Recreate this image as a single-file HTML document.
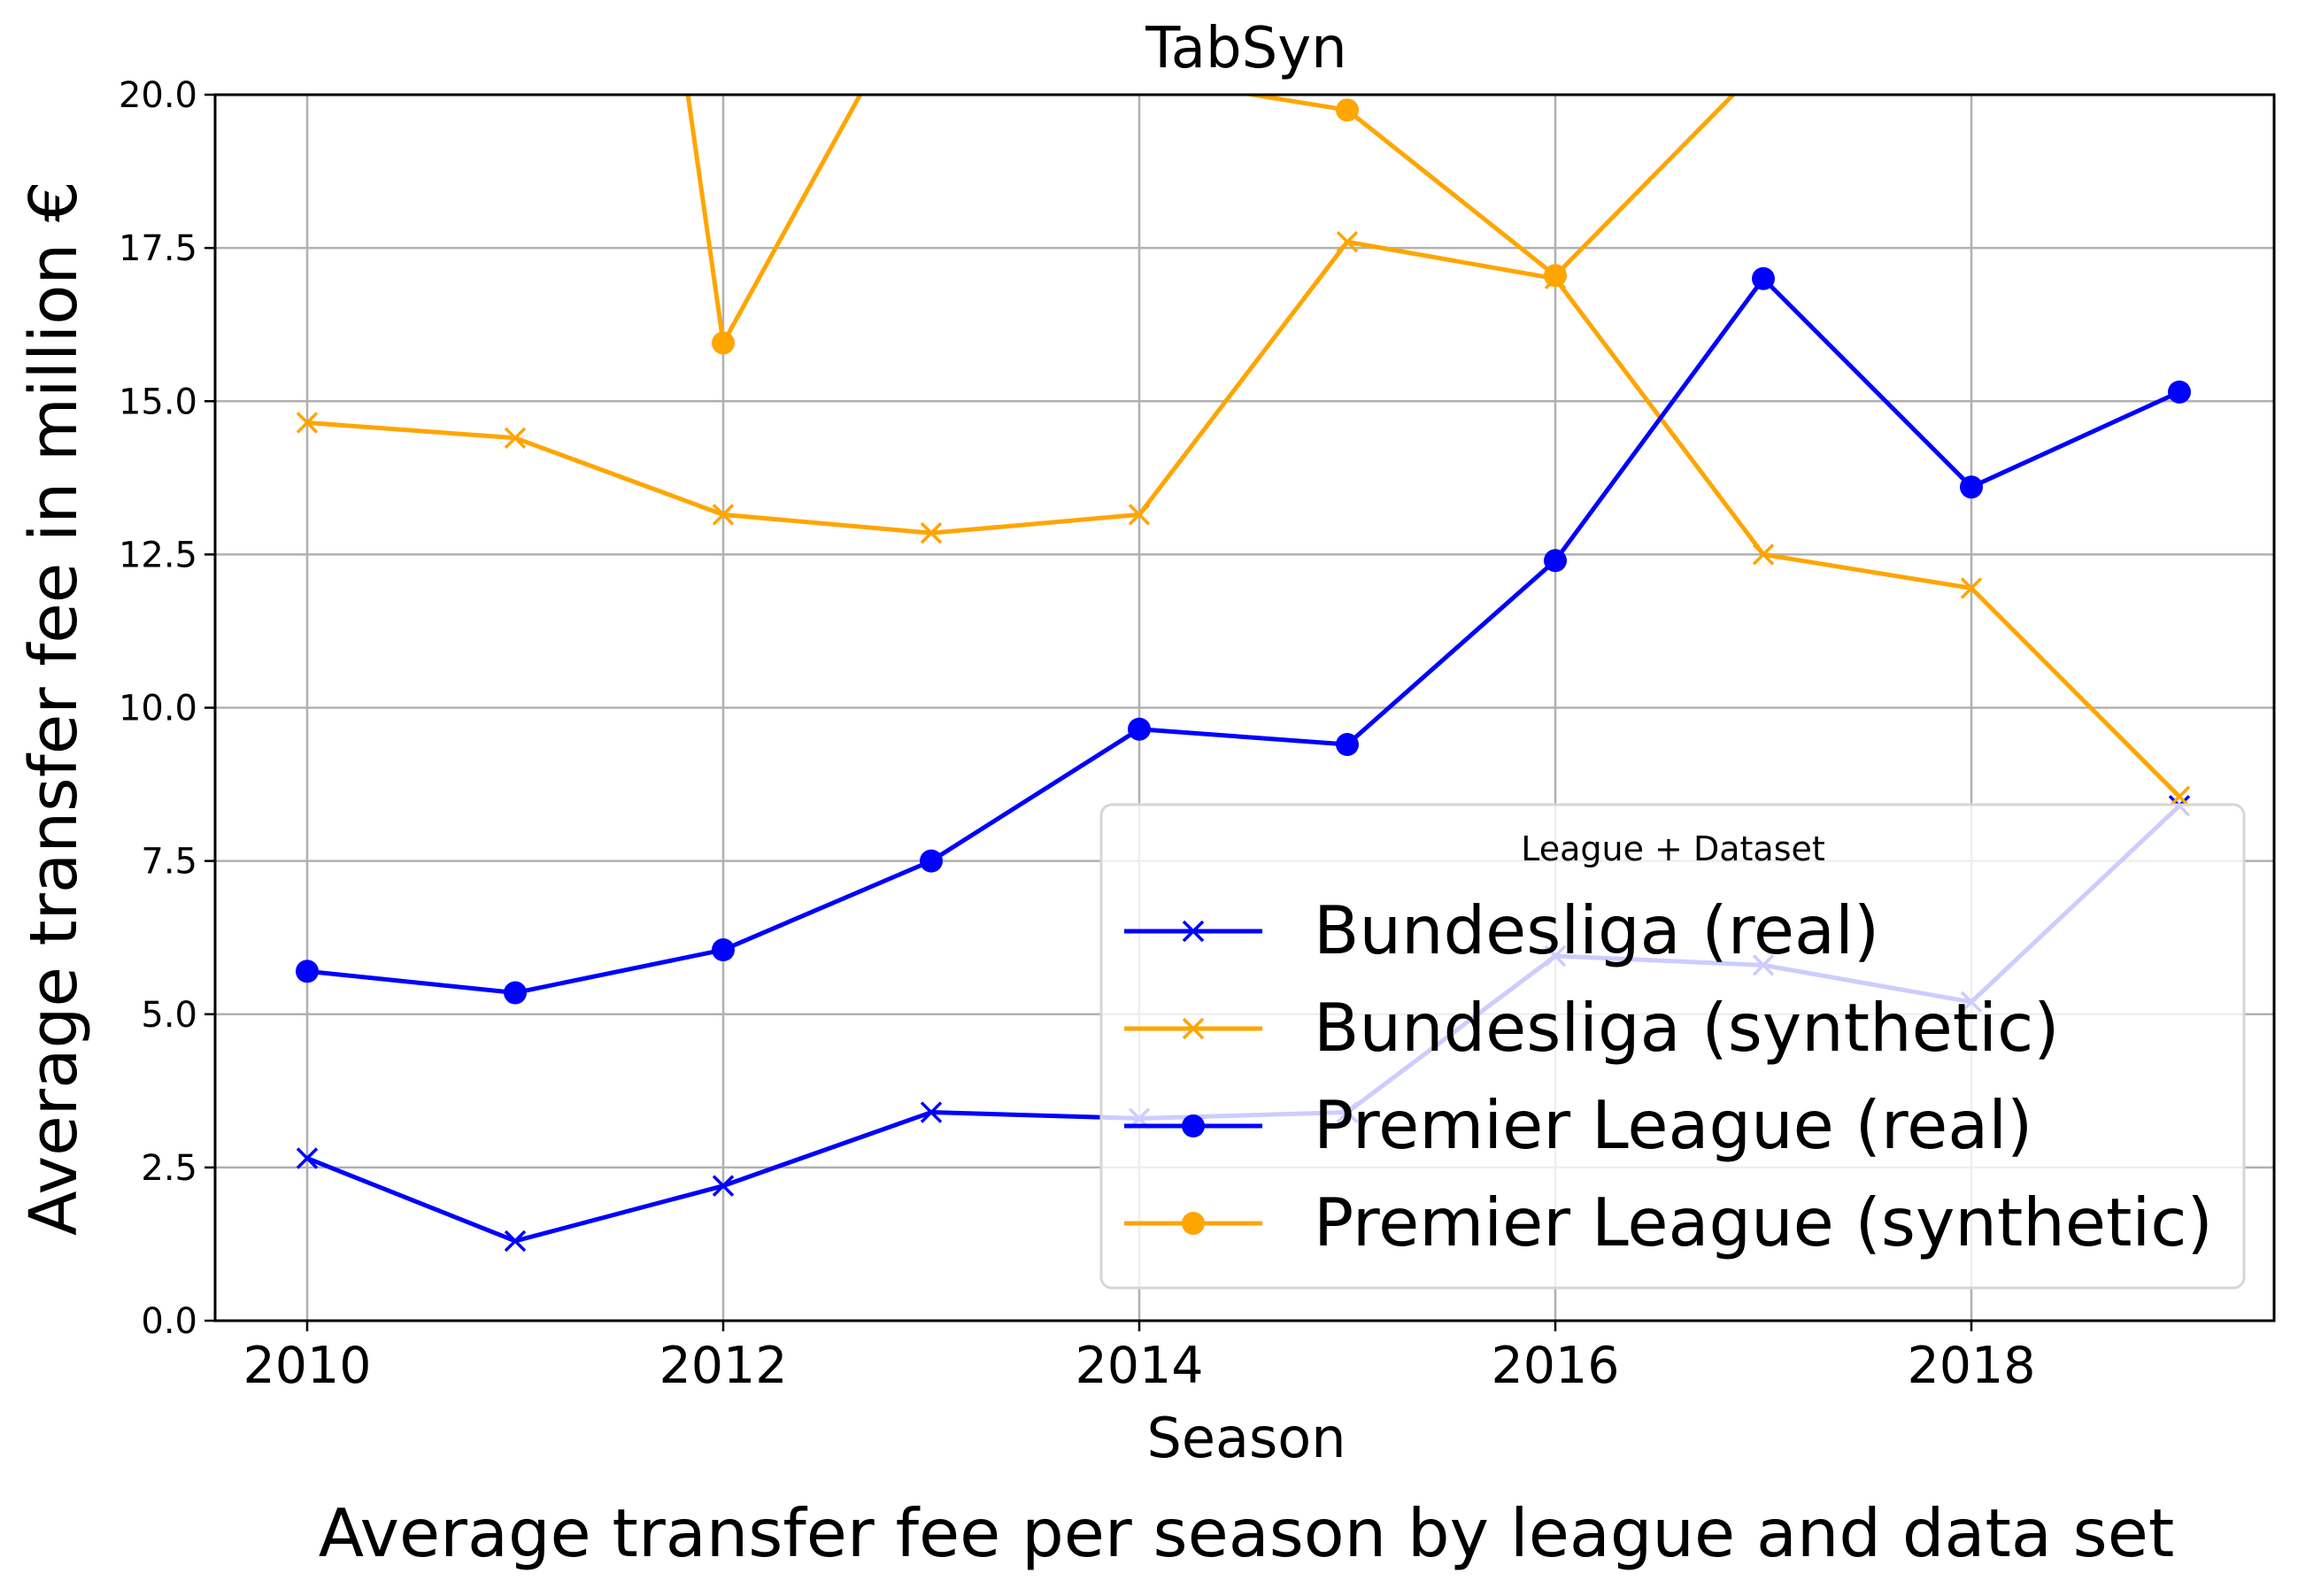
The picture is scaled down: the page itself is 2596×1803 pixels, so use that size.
<!DOCTYPE html>
<html><head><meta charset="utf-8"><style>
html,body{margin:0;padding:0;background:#fff}
svg{display:block;font-family:"DejaVu Sans","Liberation Sans",sans-serif}
</style></head><body>
<svg id="chart" width="2596" height="1803" viewBox="0 0 2596 1803" xmlns="http://www.w3.org/2000/svg">
<defs><clipPath id="plotclip"><rect x="243" y="107" width="2326" height="1385"/></clipPath></defs>
<rect width="2596" height="1803" fill="#fff"/>
<g id="grid"></g>
<g id="series" clip-path="url(#plotclip)"></g>
<rect x="243" y="107" width="2326" height="1385" fill="none" stroke="#000" stroke-width="3"/>
<g id="ticks"></g>
<text x="1408" y="76" font-size="64" text-anchor="middle">TabSyn</text>
<text x="1408" y="1646" font-size="62" text-anchor="middle">Season</text>
<text transform="translate(86,800) rotate(-90)" font-size="74" text-anchor="middle">Average transfer fee in million €</text>
<text x="1408" y="1758" font-size="75" text-anchor="middle">Average transfer fee per season by league and data set</text>
<g id="legend"></g>
</svg>
<script>
const seasons = [2010, 2011, 2012, 2013, 2014, 2015, 2016, 2017, 2018, 2019];
const bundesligaReal = [2.65, 1.3, 2.2, 3.4, 3.3, 3.4, 5.95, 5.8, 5.2, 8.4];
const bundesligaSynthetic = [14.65, 14.4, 13.15, 12.85, 13.15, 17.6, 17.0, 12.5, 11.95, 8.55];
const premierReal = [5.7, 5.35, 6.05, 7.5, 9.65, 9.4, 12.4, 17.0, 13.6, 15.15];
const premierSynthetic = [30, 39.8, 15.95, 22.1, 20.3, 19.75, 17.05, 20.5, 25, 30];
const yTicks = [0, 2.5, 5, 7.5, 10, 12.5, 15, 17.5, 20];
const yTickLabels = ["0.0","2.5","5.0","7.5","10.0","12.5","15.0","17.5","20.0"];
const xTicks = [2010, 2012, 2014, 2016, 2018];
const seriesNames = ["Bundesliga (real)","Bundesliga (synthetic)","Premier League (real)","Premier League (synthetic)"];

const NS = "http://www.w3.org/2000/svg";
const L=243,R=2569,T=107,B=1492;
const xs = v => 347 + (v-2010)*235;
const ys = v => B - (v/20)*(B-T);
function mk(tag, attrs, parent){const e=document.createElementNS(NS,tag);for(const k in attrs)e.setAttribute(k,attrs[k]);parent.appendChild(e);return e;}
const grid=document.getElementById('grid'), ticks=document.getElementById('ticks'), ser=document.getElementById('series'), leg=document.getElementById('legend');

yTicks.forEach((v,i)=>{
  const g=mk('line',{x1:L,x2:R,y1:ys(v),y2:ys(v),stroke:'#b0b0b0','stroke-width':2.5},grid);
  
  
  const t=mk('line',{x1:L-12,x2:L,y1:ys(v),y2:ys(v),stroke:'#000','stroke-width':2.5},ticks);
  
  
  const tx=mk('text',{x:L-20,y:ys(v)+14,'font-size':40,'text-anchor':'end'},ticks);
  tx.textContent=yTickLabels[i];
  
  
});
xTicks.forEach(v=>{
  const g=mk('line',{x1:xs(v),x2:xs(v),y1:T,y2:B,stroke:'#b0b0b0','stroke-width':2.5},grid);
  
  
  const t=mk('line',{x1:xs(v),x2:xs(v),y1:B,y2:B+12,stroke:'#000','stroke-width':2.5},ticks);
  
  
  const tx=mk('text',{x:xs(v),y:1562,'font-size':57,'text-anchor':'middle'},ticks);
  tx.textContent=String(v);
  
  
});

function marker(parent,x,y,type,color){
  if(type==='x'){
    const s=11;
    const p=mk('path',{d:`M${x-s},${y-s}L${x+s},${y+s}M${x-s},${y+s}L${x+s},${y-s}`,stroke:color,'stroke-width':3.5,fill:'none'},parent);
    
    
  } else {
    const c=mk('circle',{cx:x,cy:y,r:13,fill:color},parent);
    
    
  }
}
const defs=[[bundesligaReal,'blue','x','bundesliga-real'],[bundesligaSynthetic,'orange','x','bundesliga-synthetic'],[premierReal,'blue','o','premier-league-real'],[premierSynthetic,'orange','o','premier-league-synthetic']];
defs.forEach(([vals,col,m,name])=>{
  const g=mk('g',{},ser);
  
  
  const pl=mk('polyline',{points:vals.map((v,i)=>xs(seasons[i])+','+ys(v)).join(' '),fill:'none',stroke:col,'stroke-width':5,'stroke-linejoin':'round'},g);
  
  
  vals.forEach((v,i)=>marker(g,xs(seasons[i]),ys(v),m,col));
});

// legend
const box=mk('rect',{x:1244,y:909,width:1291,height:546,rx:12,fill:'rgba(255,255,255,0.8)',stroke:'#d6d6d6','stroke-width':3},leg);


const lt=mk('text',{x:1890,y:972,'font-size':38,'text-anchor':'middle'},leg);
lt.textContent='League + Dataset';


const legY=[1052,1162,1272,1382];
defs.forEach(([vals,col,m,name],i)=>{
  const g=mk('g',{},leg);
  
  
  const y=legY[i];
  mk('line',{x1:1270,x2:1426,y1:y,y2:y,stroke:col,'stroke-width':5},g);
  marker(g,1348,y,m,col);
  const t=mk('text',{x:1484,y:y+25,'font-size':75},g);
  t.textContent=seriesNames[i];
});
</script>
</body></html>
